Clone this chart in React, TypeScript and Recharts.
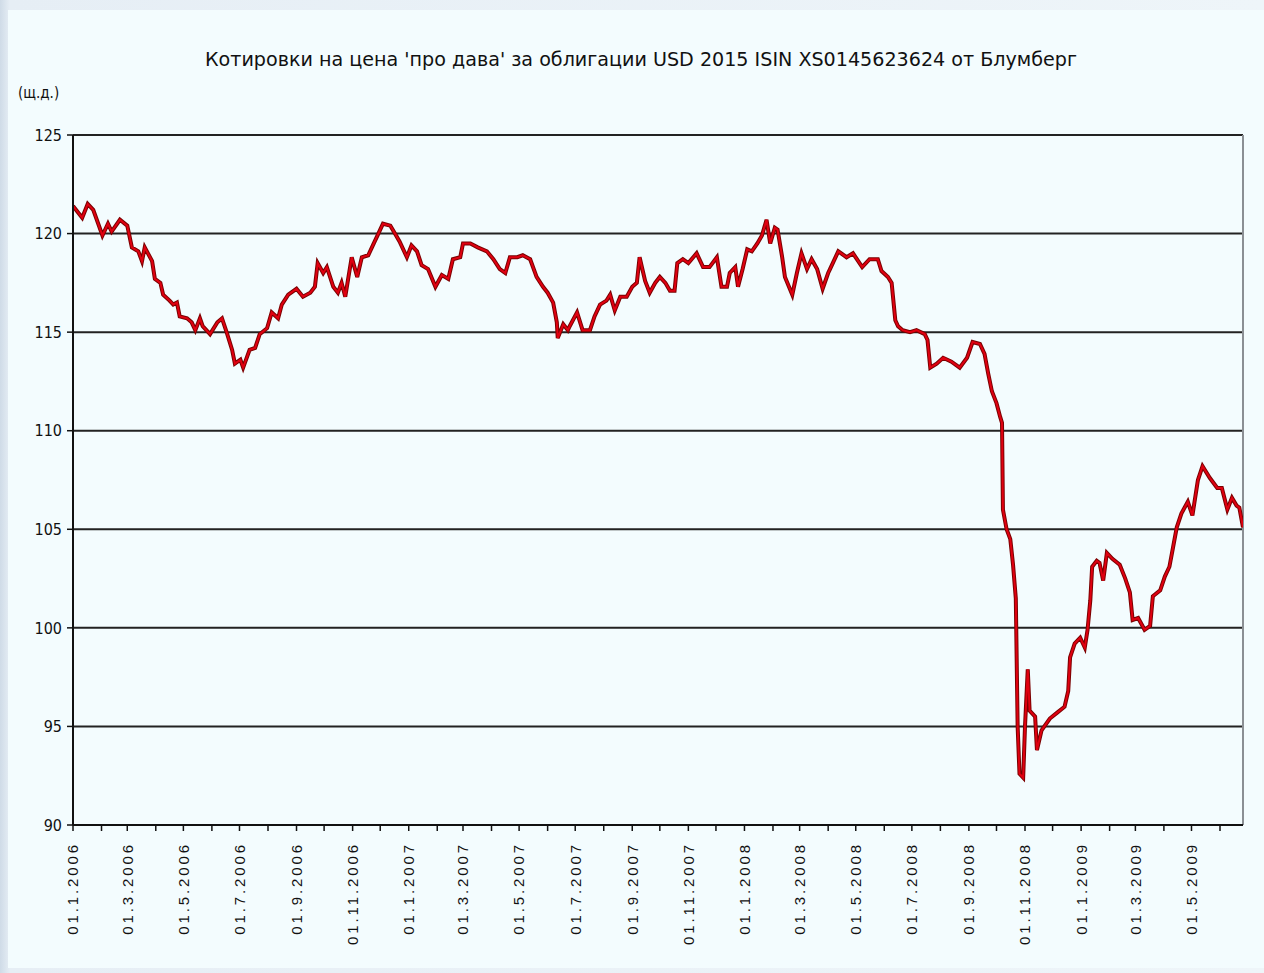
import React from "react";
import { LineChart, Line, XAxis, YAxis, CartesianGrid, ReferenceLine } from "recharts";

const TITLE = "Котировки на цена 'про дава' за облигации USD 2015 ISIN XS0145623624 от  Блумберг";
const UNIT_LABEL = "(щ.д.)";

// trading day, counted in days since 01.01.2006
const days: number[] = [
  0, 10, 16, 22, 32, 38, 42, 51, 59, 64,
  71, 75, 78, 86, 89, 95, 98, 105, 109, 113,
  116, 124, 129, 133, 138, 141, 149, 157, 162, 167,
  173, 176, 182, 185, 192, 198, 203, 211, 216, 223,
  227, 234, 243, 250, 258, 263, 266, 272, 276, 283,
  288, 292, 296, 303, 309, 314, 321, 326, 332, 337,
  345, 350, 355, 363, 368, 374, 379, 386, 394, 401,
  408, 413, 421, 424, 432, 440, 450, 457, 464, 470,
  475, 483, 489, 497, 504, 511, 516, 522, 526, 527,
  533, 538, 540, 548, 554, 562, 567, 573, 580, 584,
  589, 595, 602, 608, 613, 616, 622, 627, 633, 638,
  644, 649, 654, 657, 663, 669, 678, 685, 692, 700,
  705, 711, 714, 720, 723, 728, 733, 738, 744, 749,
  754, 758, 763, 766, 771, 774, 782, 787, 792, 798,
  803, 809, 815, 821, 823, 832, 841, 848, 858, 866,
  875, 879, 886, 890, 894, 897, 902, 910, 917, 926,
  929, 932, 939, 946, 955, 964, 972, 978, 986, 991,
  995, 999, 1004, 1008, 1010, 1011, 1015, 1019, 1022, 1025,
  1027, 1029, 1033, 1035, 1038, 1040, 1046, 1048, 1053, 1062,
  1070, 1078, 1082, 1084, 1089, 1095, 1100, 1103, 1106, 1108,
  1113, 1116, 1120, 1124, 1130, 1138, 1144, 1149, 1152, 1158,
  1165, 1171, 1174, 1182, 1187, 1192, 1196, 1200, 1205, 1212,
  1217, 1223, 1228, 1236, 1244, 1249, 1255, 1260, 1265, 1268,
  1272,
];

// bid price quotes
const prices: number[] = [
  121.4, 120.8, 121.5, 121.2, 119.9, 120.5, 120.1, 120.7, 120.4, 119.3,
  119.1, 118.6, 119.3, 118.6, 117.7, 117.5, 116.9, 116.6, 116.4, 116.5,
  115.8, 115.7, 115.5, 115.1, 115.7, 115.3, 114.9, 115.5, 115.7, 115.0,
  114.1, 113.4, 113.6, 113.2, 114.1, 114.2, 114.9, 115.2, 116.0, 115.7,
  116.4, 116.9, 117.2, 116.8, 117.0, 117.3, 118.5, 118.0, 118.3, 117.3,
  117.0, 117.5, 116.8, 118.8, 117.8, 118.8, 118.9, 119.4, 120.0, 120.5,
  120.4, 120.0, 119.6, 118.8, 119.4, 119.1, 118.4, 118.2, 117.3, 117.9,
  117.7, 118.7, 118.8, 119.5, 119.5, 119.3, 119.1, 118.7, 118.2, 118.0,
  118.8, 118.8, 118.9, 118.7, 117.8, 117.3, 117.0, 116.5, 115.5, 114.7,
  115.4, 115.1, 115.3, 116.0, 115.1, 115.1, 115.8, 116.4, 116.6, 116.9,
  116.1, 116.8, 116.8, 117.3, 117.5, 118.8, 117.6, 117.0, 117.5, 117.8,
  117.5, 117.1, 117.1, 118.5, 118.7, 118.5, 119.0, 118.3, 118.3, 118.8,
  117.3, 117.3, 118.0, 118.3, 117.3, 118.2, 119.2, 119.1, 119.5, 119.9,
  120.7, 119.5, 120.3, 120.2, 118.8, 117.8, 116.9, 118.0, 119.0, 118.2,
  118.7, 118.2, 117.2, 118.0, 118.2, 119.1, 118.8, 119.0, 118.3, 118.7,
  118.7, 118.1, 117.8, 117.5, 115.6, 115.3, 115.1, 115.0, 115.1, 114.9,
  114.6, 113.2, 113.4, 113.7, 113.5, 113.2, 113.7, 114.5, 114.4, 113.9,
  112.9, 112.0, 111.4, 110.7, 110.4, 106.0, 105.0, 104.5, 103.2, 101.5,
  95.0, 92.6, 92.4, 95.0, 97.9, 95.8, 95.5, 93.8, 94.8, 95.4,
  95.7, 96.0, 96.8, 98.5, 99.2, 99.5, 99.0, 99.9, 101.4, 103.1,
  103.4, 103.3, 102.4, 103.8, 103.5, 103.2, 102.5, 101.8, 100.4, 100.5,
  99.9, 100.1, 101.6, 101.9, 102.6, 103.1, 104.1, 105.1, 105.8, 106.4,
  105.7, 107.5, 108.2, 107.6, 107.1, 107.1, 106.0, 106.6, 106.2, 106.1,
  105.1,
];

// month starts shown as axis ticks (labels drawn for odd months)
const monthTicks: string[] = [
  "01.1.2006", "01.2.2006", "01.3.2006", "01.4.2006", "01.5.2006", "01.6.2006",
  "01.7.2006", "01.8.2006", "01.9.2006", "01.10.2006", "01.11.2006", "01.12.2006",
  "01.1.2007", "01.2.2007", "01.3.2007", "01.4.2007", "01.5.2007", "01.6.2007",
  "01.7.2007", "01.8.2007", "01.9.2007", "01.10.2007", "01.11.2007", "01.12.2007",
  "01.1.2008", "01.2.2008", "01.3.2008", "01.4.2008", "01.5.2008", "01.6.2008",
  "01.7.2008", "01.8.2008", "01.9.2008", "01.10.2008", "01.11.2008", "01.12.2008",
  "01.1.2009", "01.2.2009", "01.3.2009", "01.4.2009", "01.5.2009", "01.6.2009",
];

const yTicks: number[] = [90, 95, 100, 105, 110, 115, 120, 125];

const START = Date.UTC(2006, 0, 1);
const DAY = 86400000;
const parseLabel = (s: string) => {
  const [d, m, y] = s.split(".").map(Number);
  return Math.round((Date.UTC(y, m - 1, d) - START) / DAY);
};
const tickDays = monthTicks.map(parseLabel);
const tickLabelByDay: Record<number, string> = {};
monthTicks.forEach((s) => {
  const m = Number(s.split(".")[1]);
  if (m % 2 === 1) tickLabelByDay[parseLabel(s)] = s;
});

const data = days.map((d, i) => ({ day: d, price: prices[i] }));
const lastDay = days[days.length - 1];

const NARROW = "'Liberation Sans Narrow', 'DejaVu Sans Condensed', 'Liberation Sans', Arial, sans-serif";
const SANS = "'Liberation Sans', Arial, sans-serif";

const XTick = (props: any) => {
  const { x, y, payload } = props;
  const label = tickLabelByDay[payload.value];
  if (!label) return null;
  const ty = y + 9;
  return (
    <text
      x={x}
      y={ty}
      dy="0.36em"
      transform={`rotate(-90, ${x}, ${ty})`}
      textAnchor="end"
      fontFamily={SANS}
      fontSize={15}
      letterSpacing={2.9}
      fill="#111"
    >
      {label}
    </text>
  );
};

export default function App() {
  return (
    <div
      style={{
        position: "absolute",
        left: 0,
        top: 0,
        width: 1264,
        height: 973,
        background: "linear-gradient(90deg, #cfdbe7 0px, #e6eef5 10px, #eef5f9 100%)",
        overflow: "hidden",
      }}
    >
      <div
        style={{
          position: "absolute",
          left: 8,
          top: 10,
          width: 1256,
          height: 958,
          background: "#f3fcfe",
        }}
      />
      <div style={{ position: "absolute", left: 0, top: 0 }}>
        <LineChart
          width={1264}
          height={973}
          data={data}
          margin={{ top: 135, right: 21, bottom: 0, left: 13 }}
        >
          <text
            x={641}
            y={66}
            textAnchor="middle"
            fontFamily={NARROW}
            fontSize={19}
            textLength={872}
            lengthAdjust="spacingAndGlyphs"
            fill="#111"
          >
            {TITLE}
          </text>
          <text x={18} y={98} fontFamily={NARROW} fontSize={15} fill="#111">
            {UNIT_LABEL}
          </text>
          <CartesianGrid vertical={false} stroke="#222" strokeWidth={2} />
          <XAxis
            type="number"
            dataKey="day"
            domain={[0, lastDay]}
            ticks={tickDays}
            interval={0}
            height={148}
            tickSize={6}
            tick={<XTick />}
            axisLine={{ stroke: "#111", strokeWidth: 2 }}
            tickLine={{ stroke: "#111", strokeWidth: 1.5 }}
            allowDataOverflow
          />
          <YAxis
            type="number"
            domain={[90, 125]}
            ticks={yTicks}
            interval={0}
            width={60}
            tickSize={6}
            tickMargin={5}
            tick={{ fontFamily: NARROW, fontSize: 16, fill: "#111" }}
            axisLine={{ stroke: "#111", strokeWidth: 2 }}
            tickLine={{ stroke: "#111", strokeWidth: 1.5 }}
          />
          <ReferenceLine x={lastDay} stroke="#8a8f94" strokeWidth={2} />
          <Line
            type="linear"
            dataKey="price"
            stroke="#7a0000"
            strokeWidth={4}
            dot={false}
            isAnimationActive={false}
          />
          <Line
            type="linear"
            dataKey="price"
            stroke="#e00010"
            strokeWidth={2}
            dot={false}
            isAnimationActive={false}
          />
        </LineChart>
      </div>
    </div>
  );
}
